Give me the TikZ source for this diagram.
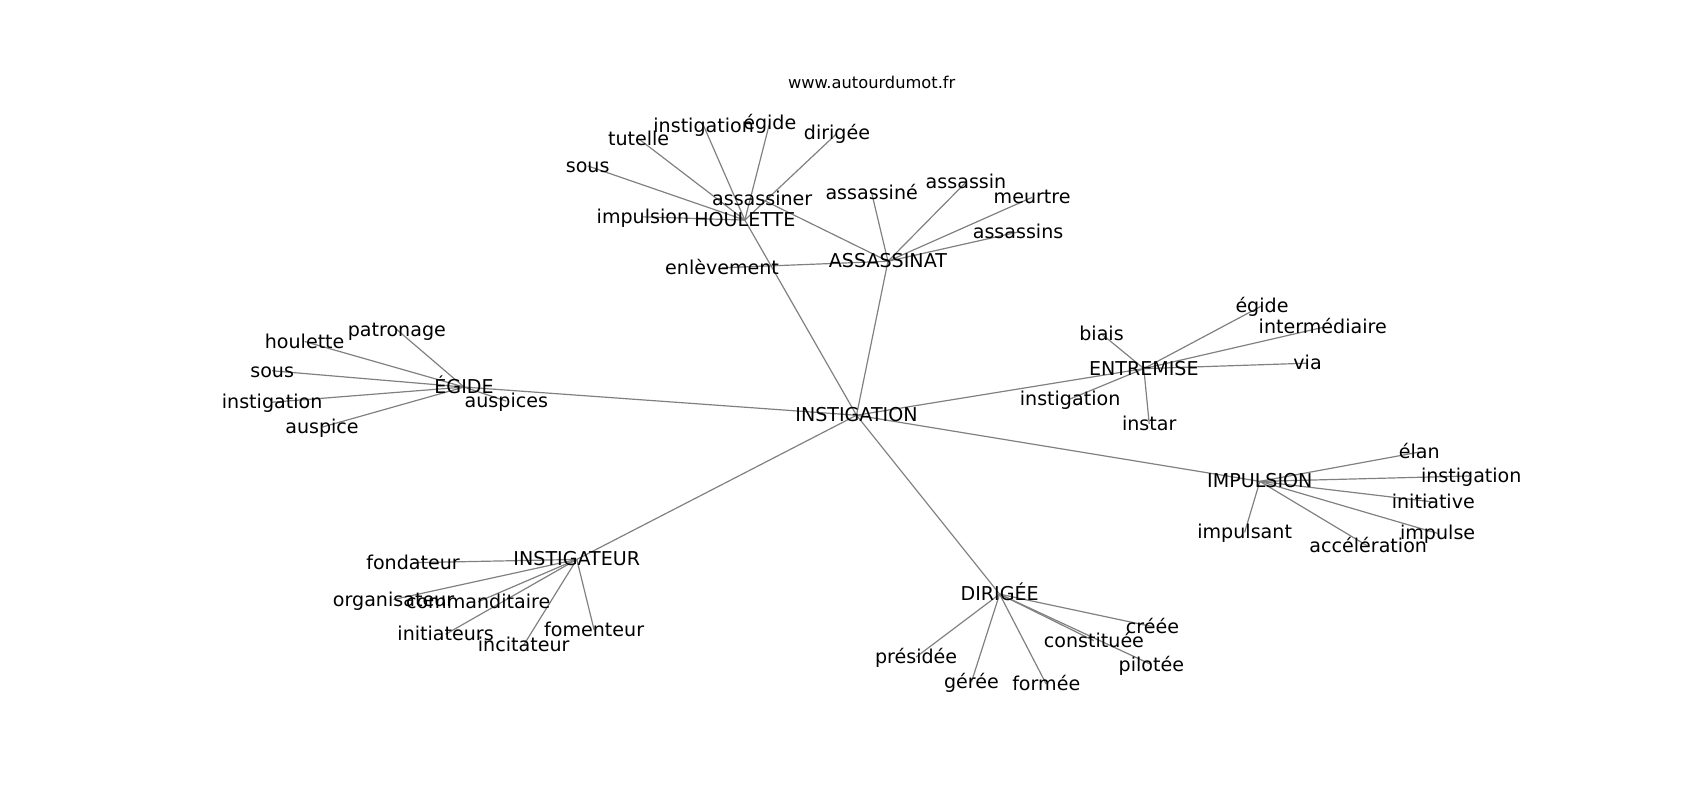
\documentclass[tikz,border=0pt]{standalone}
\usepackage{fontspec}
\setmainfont{DejaVu Sans}
\usepackage{tikz}
\usetikzlibrary{backgrounds}

\tikzset{
    VertexStyle/.style = {inner sep=0pt, text height=1.2em, text depth=0pt,
                          font=\fontsize{17.6}{20}\selectfont},
    EdgeStyle/.style = {draw=black!50, line width=1.1pt}
}

\begin{document}
\begin{tikzpicture}[x=1pt,y=-1pt]
    \useasboundingbox (0,0) rectangle (1568,738);
    \node[font=\fontsize{15}{18}\selectfont] (site) at (804,76) {www.autourdumot.fr};
    \node[VertexStyle] (racine) at (790,383) {INSTIGATION};
    \node[VertexStyle] (houlette) at (687,203) {HOULETTE};
    \node[VertexStyle] (assassinat) at (819,241) {ASSASSINAT};
    \node[VertexStyle] (egide) at (428,357) {ÉGIDE};
    \node[VertexStyle] (entremise) at (1055,340) {ENTREMISE};
    \node[VertexStyle] (impulsion) at (1162,444) {IMPULSION};
    \node[VertexStyle] (dirigee) at (922,548) {DIRIGÉE};
    \node[VertexStyle] (instigateur) at (532,516) {INSTIGATEUR};
    \node[VertexStyle] (sousA) at (542,153) {sous};
    \node[VertexStyle] (tutelle) at (589,128) {tutelle};
    \node[VertexStyle] (instigA) at (649,116) {instigation};
    \node[VertexStyle] (egideA) at (710,113) {égide};
    \node[VertexStyle] (dirigeeA) at (772,123) {dirigée};
    \node[VertexStyle] (impulsionA) at (593,200) {impulsion};
    \node[VertexStyle] (assassiner) at (703,184) {assassiner};
    \node[VertexStyle] (assassine) at (804,178) {assassiné};
    \node[VertexStyle] (assassin) at (891,168) {assassin};
    \node[VertexStyle] (meurtre) at (952,182) {meurtre};
    \node[VertexStyle] (assassins) at (939,214) {assassins};
    \node[VertexStyle] (enlevement) at (666,247) {enlèvement};
    \node[VertexStyle] (patronage) at (366,304) {patronage};
    \node[VertexStyle] (houletteB) at (281,315) {houlette};
    \node[VertexStyle] (sousB) at (251,342) {sous};
    \node[VertexStyle] (instigB) at (251,371) {instigation};
    \node[VertexStyle] (auspice) at (297,394) {auspice};
    \node[VertexStyle] (auspices) at (467,370) {auspices};
    \node[VertexStyle] (biais) at (1016,308) {biais};
    \node[VertexStyle] (egideC) at (1164,282) {égide};
    \node[VertexStyle] (intermediaire) at (1220,302) {intermédiaire};
    \node[VertexStyle] (via) at (1206,335) {via};
    \node[VertexStyle] (instigC) at (987,368) {instigation};
    \node[VertexStyle] (instar) at (1060,391) {instar};
    \node[VertexStyle] (elan) at (1309,417) {élan};
    \node[VertexStyle] (instigD) at (1357,439) {instigation};
    \node[VertexStyle] (initiative) at (1322,463) {initiative};
    \node[VertexStyle] (impulse) at (1326,492) {impulse};
    \node[VertexStyle] (acceleration) at (1262,504) {accélération};
    \node[VertexStyle] (impulsant) at (1148,491) {impulsant};
    \node[VertexStyle] (creee) at (1063,578) {créée};
    \node[VertexStyle] (constituee) at (1009,591) {constituée};
    \node[VertexStyle] (pilotee) at (1062,613) {pilotée};
    \node[VertexStyle] (presidee) at (845,606) {présidée};
    \node[VertexStyle] (geree) at (896,629) {gérée};
    \node[VertexStyle] (formee) at (965,631) {formée};
    \node[VertexStyle] (fondateur) at (381,519) {fondateur};
    \node[VertexStyle] (organisateur) at (363,553) {organisateur};
    \node[VertexStyle] (commanditaire) at (441,555) {commanditaire};
    \node[VertexStyle] (initiateurs) at (411,585) {initiateurs};
    \node[VertexStyle] (incitateur) at (483,595) {incitateur};
    \node[VertexStyle] (fomenteur) at (548,581) {fomenteur};
    \begin{scope}[on background layer]
    \draw[EdgeStyle] (racine.center) -- (houlette.center);
    \draw[EdgeStyle] (racine.center) -- (assassinat.center);
    \draw[EdgeStyle] (racine.center) -- (egide.center);
    \draw[EdgeStyle] (racine.center) -- (entremise.center);
    \draw[EdgeStyle] (racine.center) -- (impulsion.center);
    \draw[EdgeStyle] (racine.center) -- (dirigee.center);
    \draw[EdgeStyle] (racine.center) -- (instigateur.center);
    \draw[EdgeStyle] (houlette.center) -- (sousA.center);
    \draw[EdgeStyle] (houlette.center) -- (tutelle.center);
    \draw[EdgeStyle] (houlette.center) -- (instigA.center);
    \draw[EdgeStyle] (houlette.center) -- (egideA.center);
    \draw[EdgeStyle] (houlette.center) -- (dirigeeA.center);
    \draw[EdgeStyle] (houlette.center) -- (impulsionA.center);
    \draw[EdgeStyle] (assassinat.center) -- (assassiner.center);
    \draw[EdgeStyle] (assassinat.center) -- (assassine.center);
    \draw[EdgeStyle] (assassinat.center) -- (assassin.center);
    \draw[EdgeStyle] (assassinat.center) -- (meurtre.center);
    \draw[EdgeStyle] (assassinat.center) -- (assassins.center);
    \draw[EdgeStyle] (assassinat.center) -- (enlevement.center);
    \draw[EdgeStyle] (egide.center) -- (patronage.center);
    \draw[EdgeStyle] (egide.center) -- (houletteB.center);
    \draw[EdgeStyle] (egide.center) -- (sousB.center);
    \draw[EdgeStyle] (egide.center) -- (instigB.center);
    \draw[EdgeStyle] (egide.center) -- (auspice.center);
    \draw[EdgeStyle] (egide.center) -- (auspices.center);
    \draw[EdgeStyle] (entremise.center) -- (biais.center);
    \draw[EdgeStyle] (entremise.center) -- (egideC.center);
    \draw[EdgeStyle] (entremise.center) -- (intermediaire.center);
    \draw[EdgeStyle] (entremise.center) -- (via.center);
    \draw[EdgeStyle] (entremise.center) -- (instigC.center);
    \draw[EdgeStyle] (entremise.center) -- (instar.center);
    \draw[EdgeStyle] (impulsion.center) -- (elan.center);
    \draw[EdgeStyle] (impulsion.center) -- (instigD.center);
    \draw[EdgeStyle] (impulsion.center) -- (initiative.center);
    \draw[EdgeStyle] (impulsion.center) -- (impulse.center);
    \draw[EdgeStyle] (impulsion.center) -- (acceleration.center);
    \draw[EdgeStyle] (impulsion.center) -- (impulsant.center);
    \draw[EdgeStyle] (dirigee.center) -- (creee.center);
    \draw[EdgeStyle] (dirigee.center) -- (constituee.center);
    \draw[EdgeStyle] (dirigee.center) -- (pilotee.center);
    \draw[EdgeStyle] (dirigee.center) -- (presidee.center);
    \draw[EdgeStyle] (dirigee.center) -- (geree.center);
    \draw[EdgeStyle] (dirigee.center) -- (formee.center);
    \draw[EdgeStyle] (instigateur.center) -- (fondateur.center);
    \draw[EdgeStyle] (instigateur.center) -- (organisateur.center);
    \draw[EdgeStyle] (instigateur.center) -- (commanditaire.center);
    \draw[EdgeStyle] (instigateur.center) -- (initiateurs.center);
    \draw[EdgeStyle] (instigateur.center) -- (incitateur.center);
    \draw[EdgeStyle] (instigateur.center) -- (fomenteur.center);
    \end{scope}
\end{tikzpicture}
\end{document}
